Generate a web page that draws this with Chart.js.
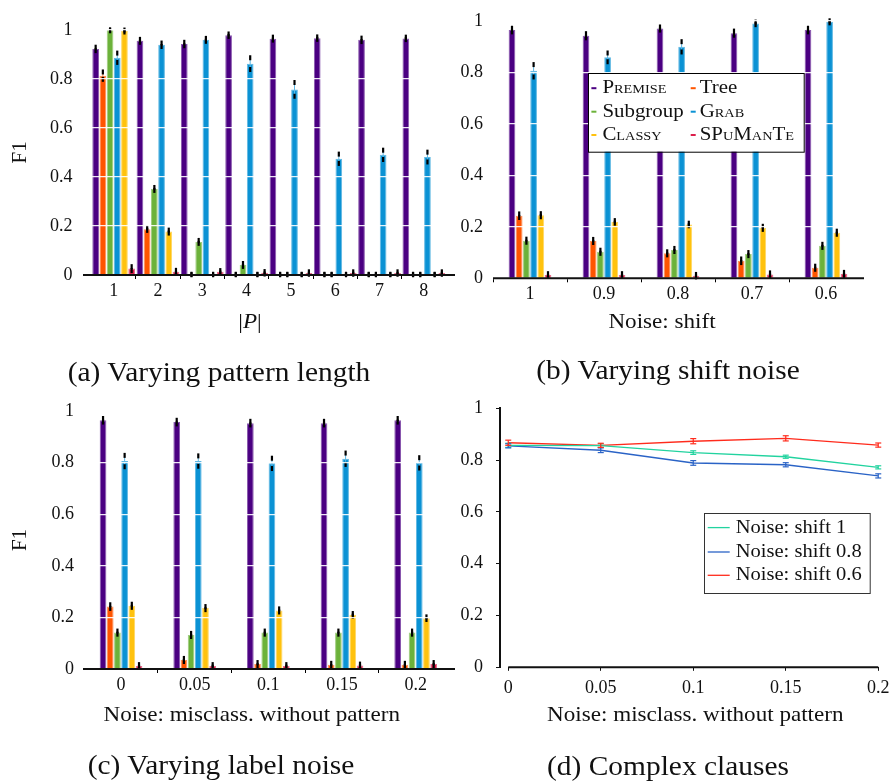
<!DOCTYPE html>
<html>
<head>
<meta charset="utf-8">
<script src="https://cdn.jsdelivr.net/npm/chart.js@4.4.1/dist/chart.umd.min.js"></script>
<style>
  html, body { margin: 0; padding: 0; background: #fff; }
  #fig { position: relative; width: 896px; height: 784px; overflow: hidden; }
  #fig canvas { position: absolute; left: 0; top: 0; }
  .cap {
    position: absolute; white-space: nowrap; color: #111;
    font-family: 'Liberation Serif', 'Times New Roman', serif;
    font-size: 27px; line-height: 27px;
    transform: translateX(-50%) scaleX(1.09);
  }
</style>
</head>
<body>
<div id="fig">
  <canvas id="chartLength" width="896" height="784"></canvas>
  <canvas id="chartShift" width="896" height="784"></canvas>
  <canvas id="chartLabel" width="896" height="784"></canvas>
  <canvas id="chartClauses" width="896" height="784"></canvas>
  <div class="cap" style="left:219px; top:359px">(a) Varying pattern length</div>
  <div class="cap" style="left:668px; top:357px">(b) Varying shift noise</div>
  <div class="cap" style="left:221px; top:752px">(c) Varying label noise</div>
  <div class="cap" style="left:668px; top:753px">(d) Complex clauses</div>
</div>
<script>
// ---- methods compared in the bar panels ----
const methods = ['Premise', 'Tree', 'Subgroup', 'Grab', 'Classy', 'SPuManTe'];
const smallCapsMethods = ['Premise', 'Grab', 'Classy', 'SPuManTe'];
const methodColors = ['#4b0082', '#ff5500', '#6cb23a', '#0b92d4', '#ffc20e', '#dc1f4c'];
const f1Ticks = [0, 0.2, 0.4, 0.6, 0.8, 1];

// ---- (a) pattern length |P| ----
const patternLengths = ['1', '2', '3', '4', '5', '6', '7', '8'];
const lenPremise     = [0.922, 0.955, 0.942, 0.978, 0.964, 0.966, 0.959, 0.965];
const lenPremiseErr  = [0.007, 0.006, 0.007, 0.005, 0.006, 0.005, 0.007, 0.005];
const lenTree        = [0.813, 0.187, 0.002, 0.002, 0.002, 0.002, 0.002, 0.002];
const lenTreeErr     = [0.015, 0.005, 0.001, 0.001, 0.001, 0.001, 0.001, 0.001];
const lenSubgroup    = [0.998, 0.351, 0.135, 0.041, 0.002, 0.002, 0.002, 0.002];
const lenSubgroupErr = [0.002, 0.006, 0.006, 0.006, 0.001, 0.001, 0.001, 0.001];
const lenGrab        = [0.886, 0.939, 0.959, 0.862, 0.757, 0.474, 0.490, 0.481];
const lenGrabErr     = [0.019, 0.007, 0.006, 0.024, 0.028, 0.019, 0.019, 0.020];
const lenClassy      = [0.995, 0.177, 0.002, 0.002, 0.002, 0.002, 0.002, 0.002];
const lenClassyErr   = [0.004, 0.006, 0.001, 0.001, 0.001, 0.001, 0.001, 0.001];
const lenSpumante    = [0.026, 0.013, 0.013, 0.009, 0.008, 0.008, 0.008, 0.008];
const lenSpumanteErr = [0.008, 0.006, 0.005, 0.005, 0.005, 0.005, 0.005, 0.005];

// ---- (b) shift noise ----
const shiftLevels   = ['1', '0.9', '0.8', '0.7', '0.6'];
const shPremise     = [0.964, 0.942, 0.970, 0.952, 0.964];
const shPremiseErr  = [0.007, 0.008, 0.006, 0.008, 0.007];
const shTree        = [0.243, 0.145, 0.097, 0.068, 0.041];
const shTreeErr     = [0.007, 0.006, 0.006, 0.007, 0.006];
const shSubgroup    = [0.146, 0.103, 0.110, 0.094, 0.126];
const shSubgroupErr = [0.006, 0.006, 0.006, 0.006, 0.006];
const shGrab        = [0.806, 0.858, 0.899, 0.990, 0.996];
const shGrabErr     = [0.024, 0.017, 0.020, 0.005, 0.004];
const shClassy      = [0.245, 0.219, 0.209, 0.196, 0.177];
const shClassyErr   = [0.006, 0.005, 0.005, 0.006, 0.006];
const shSpumante    = [0.013, 0.013, 0.010, 0.015, 0.017];
const shSpumanteErr = [0.005, 0.005, 0.005, 0.006, 0.006];

// ---- (c) label noise: misclassified without pattern ----
const labelNoise    = ['0', '0.05', '0.1', '0.15', '0.2'];
const lnPremise     = [0.964, 0.957, 0.953, 0.953, 0.964];
const lnPremiseErr  = [0.007, 0.007, 0.007, 0.007, 0.007];
const lnTree        = [0.242, 0.035, 0.019, 0.016, 0.016];
const lnTreeErr     = [0.007, 0.006, 0.006, 0.006, 0.006];
const lnSubgroup    = [0.141, 0.132, 0.141, 0.141, 0.141];
const lnSubgroupErr = [0.006, 0.006, 0.006, 0.006, 0.006];
const lnGrab        = [0.806, 0.806, 0.797, 0.815, 0.799];
const lnGrabErr     = [0.022, 0.020, 0.020, 0.022, 0.020];
const lnClassy      = [0.245, 0.236, 0.227, 0.210, 0.197];
const lnClassyErr   = [0.006, 0.006, 0.006, 0.005, 0.005];
const lnSpumante    = [0.012, 0.012, 0.012, 0.014, 0.019];
const lnSpumanteErr = [0.005, 0.005, 0.005, 0.005, 0.006];

// ---- (d) complex clauses ----
const clauseNoise  = [0, 0.05, 0.1, 0.15, 0.2];
const clauseSeries = ['Noise: shift 1', 'Noise: shift 0.8', 'Noise: shift 0.6'];
const clauseColors = ['#22d39f', '#2a63c6', '#ff2b1c'];
const shift1F1     = [0.857, 0.856, 0.829, 0.813, 0.772];
const shift1Err    = [0.008, 0.007, 0.007, 0.006, 0.006];
const shift08F1    = [0.855, 0.838, 0.789, 0.782, 0.739];
const shift08Err   = [0.008, 0.009, 0.009, 0.008, 0.008];
const shift06F1    = [0.867, 0.857, 0.873, 0.884, 0.858];
const shift06Err   = [0.010, 0.008, 0.010, 0.010, 0.008];

const serif = "'Liberation Serif', 'Times New Roman', serif";
const ink = '#111';

function tint(hex, t) {
  const n = parseInt(hex.slice(1), 16);
  const mix = c => Math.round(c + (255 - c) * t);
  return `rgb(${mix((n >> 16) & 255)},${mix((n >> 8) & 255)},${mix(n & 255)})`;
}

function strokeLine(ctx, x0, y0, x1, y1) {
  ctx.beginPath(); ctx.moveTo(x0, y0); ctx.lineTo(x1, y1); ctx.stroke();
}

// Error bars on grouped bars: thin coloured stem, short black marks at both ends
const barErrors = {
  id: 'barErrors',
  afterDatasetsDraw(chart) {
    const ctx = chart.ctx, ys = chart.scales.y;
    chart.data.datasets.forEach((ds, di) => {
      chart.getDatasetMeta(di).data.forEach((bar, i) => {
        const v = ds.data[i], e = ds.errors[i];
        const hi = ys.getPixelForValue(v + e), lo = ys.getPixelForValue(v - e);
        ctx.save();
        ctx.strokeStyle = tint(ds.backgroundColor, 0.35);
        ctx.lineWidth = 1;
        strokeLine(ctx, bar.x, hi, bar.x, lo);
        ctx.strokeStyle = '#000';
        ctx.lineWidth = 2.2;
        strokeLine(ctx, bar.x, hi - 2.5, bar.x, hi + 2.5);
        strokeLine(ctx, bar.x, lo - 2.5, bar.x, lo + 2.5);
        ctx.restore();
      });
    });
  }
};

// Capped error bars on the line panel
const lineErrors = {
  id: 'lineErrors',
  afterDatasetsDraw(chart) {
    const ctx = chart.ctx, ys = chart.scales.y;
    chart.data.datasets.forEach((ds, di) => {
      chart.getDatasetMeta(di).data.forEach((pt, i) => {
        const v = ds.data[i].y, e = ds.errors[i];
        const hi = ys.getPixelForValue(v + e), lo = ys.getPixelForValue(v - e);
        ctx.save();
        ctx.strokeStyle = ds.borderColor;
        ctx.lineWidth = 1.2;
        strokeLine(ctx, pt.x, hi, pt.x, lo);
        strokeLine(ctx, pt.x - 3, hi, pt.x + 3, hi);
        strokeLine(ctx, pt.x - 3, lo, pt.x + 3, lo);
        ctx.restore();
      });
    });
  }
};

// Heavy horizontal axis line
function baseAxis(cfg) {
  return {
    id: 'baseAxis',
    afterDraw(chart) {
      const { ctx, chartArea: a } = chart;
      let x0 = a.left - (cfg.extLeft || 0), x1 = a.right + (cfg.extRight || 0);
      if (cfg.fromValue !== undefined) {
        x0 = chart.scales.x.getPixelForValue(cfg.fromValue);
        x1 = chart.scales.x.getPixelForValue(cfg.toValue);
      }
      ctx.save();
      ctx.strokeStyle = ink;
      ctx.lineWidth = 2;
      strokeLine(ctx, x0, a.bottom, x1, a.bottom);
      ctx.restore();
    }
  };
}

// Horizontal axis title, possibly mixing upright and italic pieces
function axisCaption(cfg) {
  return {
    id: 'axisCaption',
    afterDraw(chart) {
      const { ctx, chartArea: a } = chart;
      const fontOf = i => `${cfg.italic && cfg.italic[i] ? 'italic ' : ''}${cfg.size}px ${serif}`;
      ctx.save();
      ctx.fillStyle = ink;
      ctx.textBaseline = 'alphabetic';
      ctx.textAlign = 'left';
      const widths = cfg.parts.map((p, i) => { ctx.font = fontOf(i); return ctx.measureText(p).width; });
      const total = widths.reduce((s, w) => s + w, 0);
      ctx.translate((a.left + a.right) / 2 + cfg.shift, a.bottom + cfg.drop);
      ctx.scale(cfg.stretch, 1);
      let x = -total / 2;
      cfg.parts.forEach((p, i) => { ctx.font = fontOf(i); ctx.fillText(p, x, 0); x += widths[i]; });
      ctx.restore();
    }
  };
}

// Framed legend placed inside the plot area
function boxLegend(cfg) {
  return {
    id: 'boxLegend',
    afterDraw(chart) {
      const { ctx, chartArea: a } = chart;
      const bx = Math.round(a.left + cfg.dx), by = Math.round(a.top + cfg.dy);
      ctx.save();
      ctx.fillStyle = '#fff';
      ctx.fillRect(bx, by, cfg.w, cfg.h);
      ctx.strokeStyle = cfg.border;
      ctx.lineWidth = 1;
      ctx.strokeRect(bx + 0.5, by + 0.5, cfg.w, cfg.h);
      chart.data.datasets.forEach((ds, i) => {
        const col = i % cfg.cols, row = Math.floor(i / cfg.cols);
        const ry = by + cfg.rowY[row];
        const mx = bx + cfg.markX[col], tx = bx + cfg.textX[col];
        if (cfg.marker === 'dash') {
          ctx.fillStyle = ds.backgroundColor;
          ctx.fillRect(mx, ry - 1, 5, 2);
        } else {
          ctx.strokeStyle = ds.borderColor;
          ctx.lineWidth = 1.3;
          strokeLine(ctx, mx, ry, mx + cfg.lineLen, ry);
        }
        const caps = smallCapsMethods.includes(ds.label);
        ctx.font = `${caps ? 'small-caps ' : ''}${cfg.size}px ${serif}`;
        if ('fontVariantCaps' in ctx) ctx.fontVariantCaps = caps ? 'small-caps' : 'normal';
        ctx.fillStyle = ink;
        ctx.textBaseline = 'middle';
        ctx.textAlign = 'left';
        ctx.save();
        ctx.translate(tx, ry);
        ctx.scale(cfg.stretch, 1);
        ctx.fillText(ds.label, 0, 0);
        ctx.restore();
      });
      ctx.restore();
    }
  };
}

function barSets(values, errors, catPct) {
  return methods.map((name, k) => ({
    label: name,
    data: values[k],
    errors: errors[k],
    backgroundColor: methodColors[k],
    borderColor: tint(methodColors[k], 0.35),
    borderWidth: 1,
    borderSkipped: 'start',
    categoryPercentage: catPct,
    barPercentage: 0.93
  }));
}

function barScales(o) {
  return {
    x: {
      type: 'category',
      offset: true,
      grid: {
        display: true, drawOnChartArea: false, drawTicks: true, tickLength: 4, offset: true, lineWidth: 1,
        color: c => (c.type === 'tick' && (o.edgeTicks || c.index > 0)) ? '#000' : 'rgba(0,0,0,0)'
      },
      border: { display: false },
      ticks: { color: ink, font: { family: serif, size: 18 }, padding: 1, maxRotation: 0, autoSkip: false },
      afterFit: s => { s.height = 60; }
    },
    y: {
      min: 0, max: 1, z: 1,
      afterBuildTicks: s => { s.ticks = f1Ticks.map(v => ({ value: v })); },
      grid: { z: 1, color: 'rgba(255,255,255,0.9)', lineWidth: 1.3, drawTicks: false },
      border: { display: false },
      ticks: { color: ink, font: { family: serif, size: 18 }, padding: o.yPad, callback: v => String(v) },
      title: o.yTitle
        ? { display: true, text: 'F1', color: ink, font: { family: serif, size: 21 }, padding: { top: 7.4, bottom: 0 } }
        : { display: false },
      afterFit: s => { s.width = o.yWidth; }
    }
  };
}

function barChart(id, labels, values, errors, o) {
  return new Chart(document.getElementById(id), {
    type: 'bar',
    data: { labels: labels, datasets: barSets(values, errors, o.catPct) },
    options: {
      responsive: false, animation: false, devicePixelRatio: 1, events: [],
      layout: { padding: o.padding },
      plugins: { legend: { display: false }, tooltip: { enabled: false } },
      scales: barScales(o)
    },
    plugins: [barErrors, baseAxis(o.axis), axisCaption(o.title)].concat(o.legend ? [boxLegend(o.legend)] : [])
  });
}

// (a) Varying pattern length
barChart('chartLength', patternLengths,
  [lenPremise, lenTree, lenSubgroup, lenGrab, lenClassy, lenSpumante],
  [lenPremiseErr, lenTreeErr, lenSubgroupErr, lenGrabErr, lenClassyErr, lenSpumanteErr],
  {
    padding: { left: 0, top: 16.7, right: 450, bottom: 449 },
    yWidth: 91.5, yPad: 19, yTitle: true, catPct: 0.975, edgeTicks: false,
    axis: { extLeft: 8.5, extRight: 9 },
    title: { parts: ['|', 'P', '|'], italic: [false, true, false], size: 21, stretch: 1.1, shift: -18.7, drop: 53.3 }
  });

// (b) Varying shift noise
barChart('chartShift', shiftLevels,
  [shPremise, shTree, shSubgroup, shGrab, shClassy, shSpumante],
  [shPremiseErr, shTreeErr, shSubgroupErr, shGrabErr, shClassyErr, shSpumanteErr],
  {
    padding: { left: 460, top: 20, right: 33, bottom: 445.7 },
    yWidth: 33, yPad: 10, yTitle: false, catPct: 0.584, edgeTicks: true,
    axis: { extLeft: 0, extRight: 1 },
    title: { parts: ['Noise: shift'], size: 21, stretch: 1.1, shift: -16, drop: 49.7 },
    legend: {
      dx: 95.3, dy: 52.3, w: 215.7, h: 78.7, cols: 2, border: '#000',
      rowY: [15.2, 38.7, 62], markX: [3.4, 102.7], textX: [14.4, 111.7],
      marker: 'dash', size: 19, stretch: 1.1
    }
  });

// (c) Varying label noise
barChart('chartLabel', labelNoise,
  [lnPremise, lnTree, lnSubgroup, lnGrab, lnClassy, lnSpumante],
  [lnPremiseErr, lnTreeErr, lnSubgroupErr, lnGrabErr, lnClassyErr, lnSpumanteErr],
  {
    padding: { left: 0, top: 411, right: 443.5, bottom: 55 },
    yWidth: 84.2, yPad: 10.2, yTitle: true, catPct: 0.586, edgeTicks: false,
    axis: { extLeft: 1.2, extRight: 2.5 },
    title: { parts: ['Noise: misclass. without pattern'], size: 21, stretch: 1.1, shift: -16.6, drop: 52 }
  });

// (d) Complex clauses
const clauseValues = [shift1F1, shift08F1, shift06F1];
const clauseErrors = [shift1Err, shift08Err, shift06Err];
new Chart(document.getElementById('chartClauses'), {
  type: 'line',
  data: {
    datasets: clauseSeries.map((name, k) => ({
      label: name,
      data: clauseNoise.map((x, i) => ({ x: x, y: clauseValues[k][i] })),
      errors: clauseErrors[k],
      borderColor: clauseColors[k],
      backgroundColor: clauseColors[k],
      borderWidth: 1.4,
      pointRadius: 0,
      tension: 0,
      fill: false
    }))
  },
  options: {
    responsive: false, animation: false, devicePixelRatio: 1, events: [],
    layout: { padding: { left: 440, top: 408.3, right: 15.3, bottom: 56.7 } },
    plugins: { legend: { display: false }, tooltip: { enabled: false } },
    scales: {
      x: {
        type: 'linear', min: -0.00446, max: 0.2,
        afterBuildTicks: s => { s.ticks = clauseNoise.map(v => ({ value: v })); },
        grid: { display: true, drawOnChartArea: false, drawTicks: true, tickLength: 3.5, color: ink, lineWidth: 1 },
        border: { display: false },
        ticks: { color: ink, font: { family: serif, size: 18 }, padding: 6.5, maxRotation: 0, autoSkip: false, callback: v => String(v) },
        afterFit: s => { s.height = 60; }
      },
      y: {
        min: 0, max: 1,
        afterBuildTicks: s => { s.ticks = f1Ticks.map(v => ({ value: v })); },
        grid: { display: true, drawOnChartArea: false, drawTicks: true, tickLength: 4, color: ink, lineWidth: 1 },
        border: { display: true, color: ink, width: 2 },
        ticks: { color: ink, font: { family: serif, size: 18 }, padding: 13, callback: v => String(v) },
        afterFit: s => { s.width = 60; }
      }
    }
  },
  plugins: [
    lineErrors,
    baseAxis({ fromValue: 0, toValue: 0.2 }),
    axisCaption({ parts: ['Noise: misclass. without pattern'], size: 21, stretch: 1.1, shift: 6.2, drop: 53.7 }),
    boxLegend({
      dx: 204.3, dy: 104.4, w: 165.7, h: 80, cols: 1, border: '#333',
      rowY: [14.6, 39, 62.3], markX: [3.7], textX: [31.7],
      marker: 'line', lineLen: 22, size: 19, stretch: 1.08
    })
  ]
});
</script>
</body>
</html>
